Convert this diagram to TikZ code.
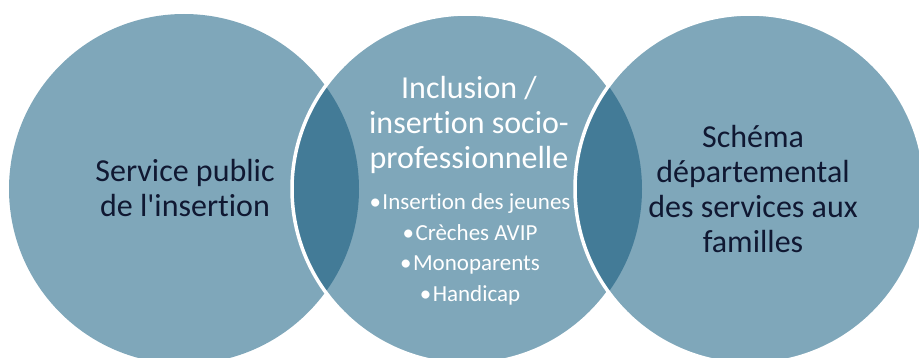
\documentclass[tikz,border=0pt]{standalone}
\usepackage{fontspec}
\setmainfont{Carlito}[Ligatures={NoCommon}]
\definecolor{venlight}{RGB}{127,167,186}
\definecolor{vendark}{RGB}{67,123,151}
\definecolor{ventext}{RGB}{16,24,50}
\tikzset{
  disc/.style={fill=venlight},
  lens/.style={fill=vendark},
  rim/.style={draw=white, line width=3.5pt},
  bigtext/.style={align=center, font=\fontsize{32}{35}\selectfont},
  smalltext/.style={align=center, font=\fontsize{23}{30.5}\selectfont, text=white}
}
\newcommand{\itembul}{\textbullet\kern1.5pt}
\begin{document}
\begin{tikzpicture}[x=1pt,y=-1pt]

\useasboundingbox (0,0) rectangle (919,358);

% circle centres
\coordinate (left) at (184,189);
\coordinate (mid) at (467,189);
\coordinate (right) at (750,189);

% left circle
\fill[disc] (left) circle (175);

% middle circle and its overlap
\fill[disc] (mid) circle (175);
\begin{scope}
\clip (left) circle (175);
\fill[lens] (mid) circle (175);
\end{scope}
\draw[rim] (mid) circle (175);

% right circle and its overlap
\fill[disc] (right) circle (175);
\begin{scope}
\clip (mid) circle (175);
\fill[lens] (right) circle (175);
\end{scope}
\draw[rim] (right) circle (175);

% texts
\node[bigtext, text=ventext] (service) at (185,188) {Service public\\de l\textquotesingle insertion};

\node[bigtext, text=white] (inclusion) at (469,125) {Inclusion /\\insertion socio-\\professionnelle};

\node[smalltext, anchor=north] (items) at (470,190) {\itembul Insertion des jeunes\\\itembul Crèches AVIP\\\itembul Monoparents\\\itembul Handicap};

\node[bigtext, text=ventext] (schema) at (753,189) {Schéma\\départemental\\des services aux\\familles};

\end{tikzpicture}
\end{document}
